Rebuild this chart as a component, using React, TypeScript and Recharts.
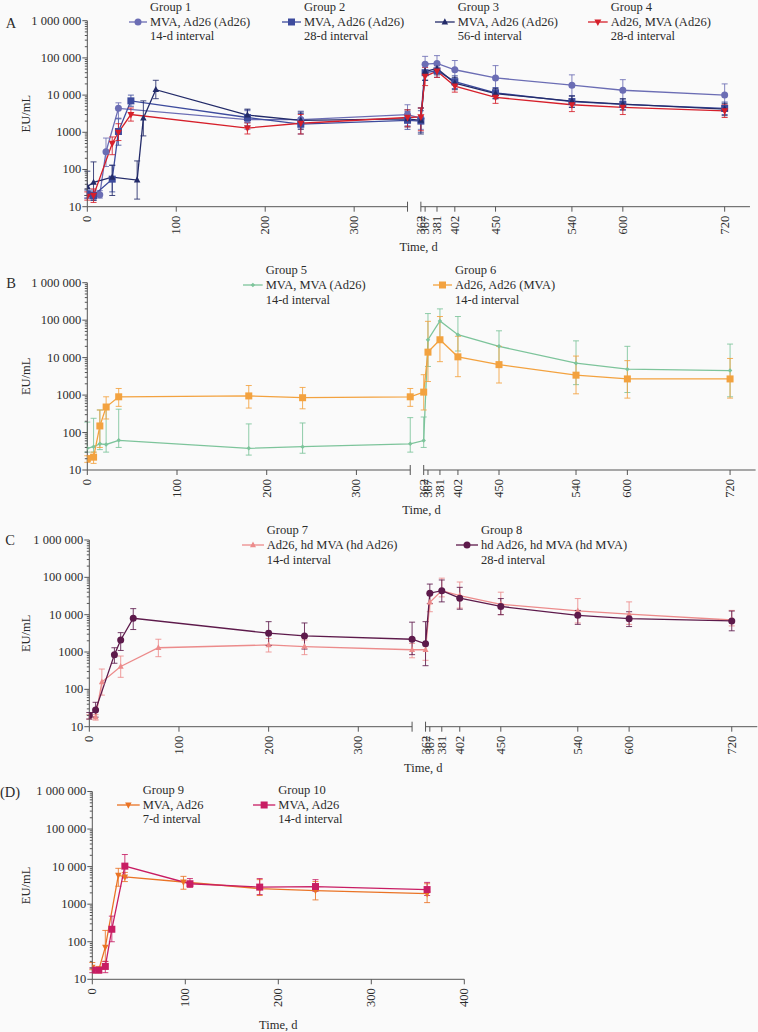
import React from 'react';
import { ErrorBar, Line, LineChart, ReferenceLine, XAxis, YAxis } from 'recharts';

const FONT = '"Liberation Serif", "Times New Roman", serif';
const INK = '#2b2b2b';
const AXIS = '#555';
const BG = '#fafafa';

// axis labels
const yDecades = [10, 100, 1000, 10000, 100000, 1000000];
const yDecadeLabels = ['10', '100', '1000', '10\u00a0000', '100\u00a0000', '1\u00a0000\u00a0000'];
const xTicksBefore = [0, 100, 200, 300];
const xTicksAfter = [362, 367, 381, 402, 450, 540, 600, 720];
const xTicksPlain = [0, 100, 200, 300, 400];

// panel A
const g1Days = [0, 7, 14, 21, 35, 180, 240, 360, 362, 367, 381, 402, 450, 540, 600, 720];
const g1Mean = [22, 20, 21, 300, 4400, 2200, 2200, 3000, 2400, 68000, 71000, 48000, 29000, 18500, 13500, 10000];
const g1Low = [17, 15, 17, 120, 2400, 1200, 1300, 1500, 1200, 40000, 45000, 25000, 14000, 9500, 7000, 5000];
const g1High = [30, 28, 27, 700, 6200, 3800, 3700, 5500, 4500, 110000, 115000, 85000, 62000, 35000, 26000, 20000];

const g2Days = [0, 7, 28, 35, 49, 180, 240, 360, 362, 367, 381, 402, 450, 540, 600, 720];
const g2Mean = [22, 20, 55, 1050, 7000, 2500, 1650, 2100, 2000, 40000, 45000, 23000, 11500, 6700, 5600, 4400];
const g2Low = [17, 15, 25, 450, 5000, 1500, 900, 1200, 1000, 25000, 30000, 15000, 8000, 4700, 4000, 3000];
const g2High = [28, 26, 130, 2300, 10000, 4000, 3200, 3600, 3800, 70000, 70000, 33000, 16000, 9500, 7800, 6500];

const g3Days = [0, 7, 28, 56, 63, 77, 180, 240, 360, 362, 367, 381, 402, 450, 540, 600, 720];
const g3Mean = [35, 45, 62, 52, 2400, 14000, 2900, 2100, 2300, 2100, 43000, 52000, 21000, 11000, 6900, 5700, 4200];
const g3Low = [20, 15, 20, 16, 800, 8000, 1800, 1200, 1400, 900, 25000, 35000, 14000, 8000, 4700, 4000, 2800];
const g3High = [90, 160, 130, 170, 7000, 25000, 4200, 3500, 4000, 4500, 70000, 75000, 30000, 15000, 9500, 8000, 6000];

const g4Days = [0, 7, 28, 35, 49, 180, 240, 360, 362, 367, 381, 402, 450, 540, 600, 720];
const g4Mean = [19, 20, 500, 1000, 3000, 1300, 1750, 2500, 2600, 32000, 44000, 17500, 8700, 5500, 4700, 3750];
const g4Low = [15, 13, 250, 600, 2000, 900, 900, 1400, 1100, 18000, 30000, 12000, 6000, 3600, 3000, 2500];
const g4High = [25, 30, 750, 1700, 4500, 1800, 3000, 4000, 4500, 55000, 62000, 25000, 12000, 8000, 6500, 5500];

// panel B
const g5Days = [0, 7, 14, 21, 35, 180, 240, 360, 362, 367, 381, 402, 450, 540, 600, 720];
const g5Mean = [38, 42, 50, 48, 62, 38, 42, 50, 61, 30000, 95000, 41000, 20000, 7100, 4900, 4500];
const g5Low = [30, 30, 35, 30, 40, 25, 28, 30, 40, 5800, 30000, 15000, 6000, 1900, 1170, 900];
const g5High = [190, 240, 400, 420, 420, 170, 180, 250, 260, 150000, 200000, 125000, 52000, 28000, 20000, 23000];

const g6Days = [0, 7, 14, 21, 35, 180, 240, 360, 362, 367, 381, 402, 450, 540, 600, 720];
const g6Mean = [20, 22, 150, 480, 900, 950, 850, 900, 1200, 14000, 30000, 10500, 6500, 3400, 2700, 2700];
const g6Low = [16, 15, 40, 230, 500, 450, 430, 500, 400, 2300, 7800, 3100, 2100, 1080, 830, 830];
const g6High = [24, 30, 400, 900, 1500, 1800, 1600, 1500, 3500, 93000, 125000, 37000, 20000, 11000, 8300, 9500];

// panel C
const g7Days = [0, 7, 14, 35, 77, 200, 240, 360, 362, 367, 381, 402, 450, 540, 600, 720];
const g7Mean = [19, 18, 157, 410, 1300, 1550, 1400, 1150, 1150, 21500, 44000, 32500, 19000, 12600, 10300, 7200];
const g7Low = [16, 15, 70, 210, 750, 1000, 850, 700, 600, 12000, 30000, 15000, 10000, 6000, 5500, 5000];
const g7High = [21, 21, 350, 780, 2200, 2300, 2100, 1700, 1700, 38000, 95000, 75000, 40000, 27000, 22000, 13000];

const g8Days = [0, 7, 28, 35, 49, 200, 240, 360, 362, 367, 381, 402, 450, 540, 600, 720];
const g8Mean = [20, 28, 850, 2100, 8000, 3200, 2700, 2200, 1660, 37600, 44000, 27600, 16600, 9600, 7800, 6800];
const g8Low = [16, 18, 500, 1100, 4000, 1500, 1200, 850, 430, 20000, 22000, 14000, 10000, 5500, 4800, 3700];
const g8High = [24, 45, 1300, 3300, 14500, 6500, 6000, 6300, 6500, 66000, 85000, 54000, 27000, 13000, 12000, 12500];

// panel D
const g9Days = [0, 7, 14, 28, 35, 98, 180, 240, 360];
const g9Mean = [21, 18, 72, 5900, 5300, 3900, 2600, 2300, 1900];
const g9Low = [18, 15, 30, 3000, 4000, 2500, 1700, 1300, 1100];
const g9High = [28, 22, 200, 9000, 7000, 5500, 4500, 4000, 3500];

const g10Days = [0, 7, 14, 21, 35, 105, 180, 240, 360];
const g10Mean = [17.5, 17.5, 22, 215, 10300, 3500, 2850, 2950, 2450];
const g10Low = [15, 15, 15, 100, 5000, 2800, 1800, 2200, 1700];
const g10High = [20, 20, 30, 480, 21000, 4800, 4800, 4500, 3800];

// broken time axis: days after the break are squeezed a little
const BREAK_AT = 360;
const RESUME_AT = 375;
const SQUEEZE = 0.954;
const pos = (d: number) => (d <= BREAK_AT ? d : RESUME_AT + (d - 362) * SQUEEZE);

type Row = { x: number; day: number; v: number; err: [number, number] };
const toRows = (days: number[], mean: number[], low: number[], high: number[], broken = true): Row[] =>
  days.map((d, i) => ({ x: broken ? pos(d) : d, day: d, v: mean[i], err: [mean[i] - low[i], high[i] - mean[i]] }));

type Shape = 'circle' | 'square' | 'triangle' | 'down' | 'diamond';
type Series = {
  name: string; line1: string; line2: string; color: string; shape: Shape; size: number;
  rows: Row[]; iconX: number; textX: number;
};
type PanelCfg = {
  letter: string; letterX: number; letterY: number;
  chartTop: number; width: number; plotLeft: number; plotTop: number; plotBottom: number; plotRight: number;
  xMax: number; broken: boolean; labelOffset: number; legendTop: number; series: Series[];
};

function Marker({ cx, cy, shape, color, size }: { cx?: number; cy?: number; shape: Shape; color: string; size: number }) {
  if (cx == null || cy == null || Number.isNaN(cx) || Number.isNaN(cy)) return null;
  const h = size / 2;
  if (shape === 'circle') return <circle cx={cx} cy={cy} r={h} fill={color} />;
  if (shape === 'square') return <rect x={cx - h} y={cy - h} width={size} height={size} fill={color} />;
  if (shape === 'triangle')
    return <polygon points={`${cx},${cy - h * 1.15} ${cx - h},${cy + h * 0.75} ${cx + h},${cy + h * 0.75}`} fill={color} />;
  if (shape === 'down')
    return <polygon points={`${cx},${cy + h * 1.15} ${cx - h},${cy - h * 0.75} ${cx + h},${cy - h * 0.75}`} fill={color} />;
  return <polygon points={`${cx},${cy - h} ${cx + h},${cy} ${cx},${cy + h} ${cx - h},${cy}`} fill={color} />;
}

const yTicks = yDecades.flatMap((d, i) => (i < yDecades.length - 1 ? [d, 2, 3, 4, 5, 6, 7, 8, 9].map((m, j) => (j === 0 ? d : d * m)) : [d]));

function YTick(props: any) {
  const { x, y, payload } = props;
  const i = yDecades.indexOf(payload.value);
  const major = i >= 0;
  return (
    <g>
      <line x1={x - (major ? 5 : 2.5)} x2={x} y1={y} y2={y} stroke={AXIS} strokeWidth={1} />
      {major && (
        <text x={x - 6} y={y} textAnchor="end" dominantBaseline="central" fontFamily={FONT} fontSize={12.5} fill={INK}>
          {yDecadeLabels[i]}
        </text>
      )}
    </g>
  );
}

function makeXTick(labels: { at: number; text: string }[], breaks: number[]) {
  return (props: any) => {
    const { x, y, payload } = props;
    const v = payload.value;
    const lab = labels.find((l) => Math.abs(l.at - v) < 0.01);
    const isBreak = breaks.some((b) => Math.abs(b - v) < 0.01);
    return (
      <g>
        <line x1={x} x2={x} y1={isBreak ? y - 5 : y} y2={y + 5} stroke={AXIS} strokeWidth={1} />
        {lab && (
          <text x={x} y={y + 9} transform={`rotate(-90 ${x} ${y + 9})`} textAnchor="end" dominantBaseline="central"
            fontFamily={FONT} fontSize={12.5} fill={INK}>
            {lab.text}
          </text>
        )}
      </g>
    );
  };
}

const brokenLabels = [...xTicksBefore, ...xTicksAfter].map((d) => ({ at: pos(d), text: String(d) }));
const brokenBreaks = [BREAK_AT, RESUME_AT];
const brokenTicks = [...xTicksBefore.map(pos), BREAK_AT, ...xTicksAfter.map(pos)];
const plainLabels = xTicksPlain.map((d) => ({ at: d, text: String(d) }));

const s = (name: string, line1: string, line2: string, color: string, shape: Shape, size: number, rows: Row[], iconX: number, textX: number): Series =>
  ({ name, line1, line2, color, shape, size, rows, iconX, textX });

const PANELS: PanelCfg[] = [
  {
    letter: 'A', letterX: 11, letterY: 22.5, chartTop: 0, width: 758, plotLeft: 87.3, plotTop: 20.7, plotBottom: 206.7,
    plotRight: 750, xMax: 745, broken: true, labelOffset: 7.2, legendTop: 0,
    series: [
      s('Group 1', 'MVA, Ad26 (Ad26)', '14-d interval', '#6b6db4', 'circle', 7, toRows(g1Days, g1Mean, g1Low, g1High), 129, 150),
      s('Group 2', 'MVA, Ad26 (Ad26)', '28-d interval', '#3d4b9d', 'square', 7, toRows(g2Days, g2Mean, g2Low, g2High), 282, 304),
      s('Group 3', 'MVA, Ad26 (Ad26)', '56-d interval', '#232b69', 'triangle', 6.5, toRows(g3Days, g3Mean, g3Low, g3High), 435, 457.7),
      s('Group 4', 'Ad26, MVA (Ad26)', '28-d interval', '#d61f2a', 'down', 7, toRows(g4Days, g4Mean, g4Low, g4High), 588, 610.7),
    ],
  },
  {
    letter: 'B', letterX: 11, letterY: 282.5, chartTop: 262, width: 758, plotLeft: 87.3, plotTop: 282.7, plotBottom: 470,
    plotRight: 755.6, xMax: 745, broken: true, labelOffset: 8.5, legendTop: 263.2,
    series: [
      s('Group 5', 'MVA, MVA (Ad26)', '14-d interval', '#7dc49b', 'diamond', 4.5, toRows(g5Days, g5Mean, g5Low, g5High), 243, 265.7),
      s('Group 6', 'Ad26, Ad26 (MVA)', '14-d interval', '#f3a23f', 'square', 7, toRows(g6Days, g6Mean, g6Low, g6High), 433, 455),
    ],
  },
  {
    letter: 'C', letterX: 10, letterY: 539.5, chartTop: 520, width: 758, plotLeft: 89.3, plotTop: 540, plotBottom: 726.7,
    plotRight: 757.3, xMax: 745, broken: true, labelOffset: 6.2, legendTop: 523.4,
    series: [
      s('Group 7', 'Ad26, hd MVA (hd Ad26)', '14-d interval', '#ec8b8b', 'triangle', 6, toRows(g7Days, g7Mean, g7Low, g7High), 241.7, 266.7),
      s('Group 8', 'hd Ad26, hd MVA (hd MVA)', '28-d interval', '#5d1a4b', 'circle', 7, toRows(g8Days, g8Mean, g8Low, g8High), 456, 481),
    ],
  },
  {
    letter: '(D)', letterX: 10, letterY: 791.5, chartTop: 780, width: 470, plotLeft: 92.3, plotTop: 791.5, plotBottom: 979.3,
    plotRight: 464.3, xMax: 400, broken: false, labelOffset: 1.8, legendTop: 783,
    series: [
      s('Group 9', 'MVA, Ad26', '7-d interval', '#ea7325', 'down', 6.5, toRows(g9Days, g9Mean, g9Low, g9High, false), 117, 142.7),
      s('Group 10', 'MVA, Ad26', '14-d interval', '#c81d63', 'square', 7, toRows(g10Days, g10Mean, g10Low, g10High, false), 253, 278.3),
    ],
  },
];

function LegendEntry({ sr, top }: { sr: Series; top: number }) {
  const lh = 14.7;
  const iconW = sr.textX - sr.iconX - 3;
  return (
    <>
      <svg width={iconW + 4} height={12} style={{ position: 'absolute', left: sr.iconX - 2, top: top + lh * 1.5 - 6 }}>
        <line x1={2} x2={iconW + 2} y1={6} y2={6} stroke={sr.color} strokeWidth={1.3} />
        <Marker cx={2 + iconW / 2} cy={6} shape={sr.shape} color={sr.color} size={sr.size} />
      </svg>
      <div style={{ position: 'absolute', left: sr.textX, top, fontFamily: FONT, fontSize: 12.5, lineHeight: `${lh}px`, color: INK, whiteSpace: 'nowrap' }}>
        <div>{sr.name}</div>
        <div>{sr.line1}</div>
        <div>{sr.line2}</div>
      </div>
    </>
  );
}

function Panel({ cfg }: { cfg: PanelCfg }) {
  const xh = 52;
  const height = cfg.plotBottom - cfg.chartTop + xh;
  const ticks = cfg.broken ? brokenTicks : xTicksPlain;
  const tick = cfg.broken ? makeXTick(brokenLabels, brokenBreaks) : makeXTick(plainLabels, []);
  return (
    <>
      <div style={{ position: 'absolute', left: 0, top: cfg.chartTop }}>
        <LineChart width={cfg.width} height={height}
          margin={{ top: cfg.plotTop - cfg.chartTop, right: cfg.width - cfg.plotRight, bottom: 0, left: 0 }}>
          <XAxis type="number" dataKey="x" domain={[0, cfg.xMax]} ticks={ticks} interval={0} tick={tick}
            tickLine={false} tickSize={0} tickMargin={0} height={xh} allowDataOverflow
            axisLine={cfg.broken ? false : { stroke: AXIS }}
            label={{ value: 'Time, d', position: 'insideBottom', offset: cfg.labelOffset, style: { fontFamily: FONT, fontSize: 12.5, fill: INK } }} />
          <YAxis type="number" scale="log" domain={[10, 1000000]} ticks={yTicks} interval={0} tick={<YTick />}
            tickLine={false} tickSize={0} tickMargin={0} width={cfg.plotLeft} allowDataOverflow axisLine={{ stroke: AXIS }}
            label={{ value: 'EU/mL', angle: -90, position: 'insideLeft', offset: 26, style: { textAnchor: 'middle', fontFamily: FONT, fontSize: 12.5, fill: INK } }} />
          {cfg.broken && (
            <ReferenceLine segment={[{ x: 0, y: 10 }, { x: BREAK_AT, y: 10 }]} stroke={AXIS} strokeWidth={1} ifOverflow="visible" />
          )}
          {cfg.broken && (
            <ReferenceLine segment={[{ x: RESUME_AT, y: 10 }, { x: cfg.xMax, y: 10 }]} stroke={AXIS} strokeWidth={1} ifOverflow="visible" />
          )}
          {cfg.series.map((sr) => (
            <Line key={sr.name} data={sr.rows} dataKey="v" stroke={sr.color} strokeWidth={1.3} isAnimationActive={false}
              activeDot={false}
              dot={(p: any) => <Marker key={`${sr.name}-${p.index}`} cx={p.cx} cy={p.cy} shape={sr.shape} color={sr.color} size={sr.size} />}>
              <ErrorBar dataKey="err" direction="y" width={3} stroke={sr.color} strokeWidth={1} strokeOpacity={0.85} />
            </Line>
          ))}
        </LineChart>
      </div>
      <div style={{ position: 'absolute', left: cfg.letterX - 10, top: cfg.letterY - 8, width: 20, textAlign: 'center', fontFamily: FONT, fontSize: 14.5, lineHeight: '16px', color: INK }}>
        {cfg.letter}
      </div>
      {cfg.series.map((sr) => (
        <LegendEntry key={sr.name} sr={sr} top={cfg.legendTop} />
      ))}
    </>
  );
}

export default function App() {
  return (
    <div style={{ position: 'absolute', left: 0, top: 0, width: 758, height: 1032, background: BG, overflow: 'hidden' }}>
      {PANELS.map((p) => (
        <Panel key={p.letter} cfg={p} />
      ))}
    </div>
  );
}
